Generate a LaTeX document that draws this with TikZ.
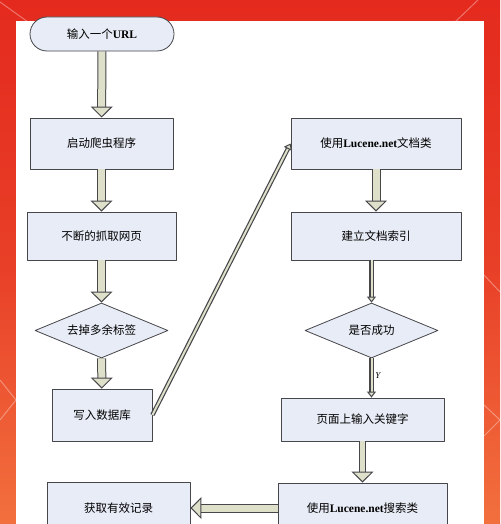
\documentclass[tikz,border=0pt]{standalone}
\usepackage{fontspec}
\setmainfont{Liberation Serif}
\newfontfamily\cjk{Noto Sans CJK SC}
\usetikzlibrary{shapes.geometric,arrows.meta}
\definecolor{boxfill}{RGB}{232,236,246}
\definecolor{boxline}{RGB}{70,70,75}
\definecolor{arrfill}{RGB}{222,224,202}
\definecolor{bgred}{RGB}{228,42,30}
\definecolor{bgorange}{RGB}{242,112,62}
\begin{document}
\begin{tikzpicture}[x=1pt,y=-1pt,line join=round,font=\fontsize{11.5}{13}\selectfont\cjk,
    box/.style={draw=boxline,fill=boxfill,line width=0.8pt,inner sep=0pt},
    choice/.style={diamond,aspect=2.4,draw=boxline,fill=boxfill,line width=0.8pt,inner sep=0pt},
    fat/.style={draw=boxline,line width=1pt,double=arrfill,double distance=7pt,
        -{Triangle[length=11pt,width=22pt,fill=arrfill,line width=1pt]}},
    slim/.style={draw=boxline,line width=1.2pt,double=arrfill,double distance=2pt,
        -{Triangle[length=6pt,width=9pt,fill=arrfill,line width=1pt]}}]
    \useasboundingbox (0,0) rectangle (500,524);
    % background
    \shade[top color=bgred,bottom color=bgorange,middle color=bgred!70!bgorange] (0,0) rectangle (500,524);
    \draw[white,opacity=.35,line width=1pt]
        (0,2)--(28,22) (455,22)--(478,0) (0,380)--(16,400)--(0,420)
        (484,275)--(500,292) (484,405)--(500,420)--(484,436);
    \fill[white] (16,21) rectangle (484,524);
    % left column
    \node[box,rounded corners=17pt,minimum width=144pt,minimum height=34pt] (url) at (102,34) {输入一个\textbf{\rmfamily URL}};
    \node[box,minimum width=143pt,minimum height=51pt] (spider) at (101.5,143.5) {启动爬虫程序};
    \node[box,minimum width=149pt,minimum height=48pt] (fetch) at (101.5,236) {不断的抓取网页};
    \node[choice,minimum width=133pt,minimum height=55pt] (strip) at (101.5,330.5) {去掉多余标签};
    \node[box,minimum width=100pt,minimum height=52pt] (db) at (102,415) {写入数据库};
    \node[box,minimum width=143pt,minimum height=52pt] (record) at (118.5,508) {获取有效记录};
    % right column
    \node[box,minimum width=170pt,minimum height=51pt] (doc) at (376,143.5) {使用\textbf{\rmfamily Lucene.net}文档类};
    \node[box,minimum width=170pt,minimum height=48pt] (index) at (376,236) {建立文档索引};
    \node[choice,minimum width=133pt,minimum height=55pt] (ok) at (371.5,330.5) {是否成功};
    \node[box,minimum width=163pt,minimum height=43pt] (key) at (362.5,419.5) {页面上输入关键字};
    \node[box,minimum width=169pt,minimum height=50pt] (search) at (362.5,508) {使用\textbf{\rmfamily Lucene.net}搜索类};
    % connectors
    \draw[fat] (url) -- (spider);
    \draw[fat] (spider) -- (fetch);
    \draw[fat] (fetch) -- (strip);
    \draw[fat] (strip) -- (db);
    \draw[slim] (db.east) -- (doc.west);
    \draw[fat] (doc) -- (index);
    \draw[slim] (ok.north |- index.south) -- (ok.north);
    \draw[slim] (ok.south) -- node[right,font=\fontsize{9}{10}\selectfont\rmfamily\itshape,pos=.45]{Y} (ok.south |- key.north);
    \draw[fat,double distance=5pt] (key) -- (search);
    \draw[fat] (search) -- (record);
\end{tikzpicture}
\end{document}
